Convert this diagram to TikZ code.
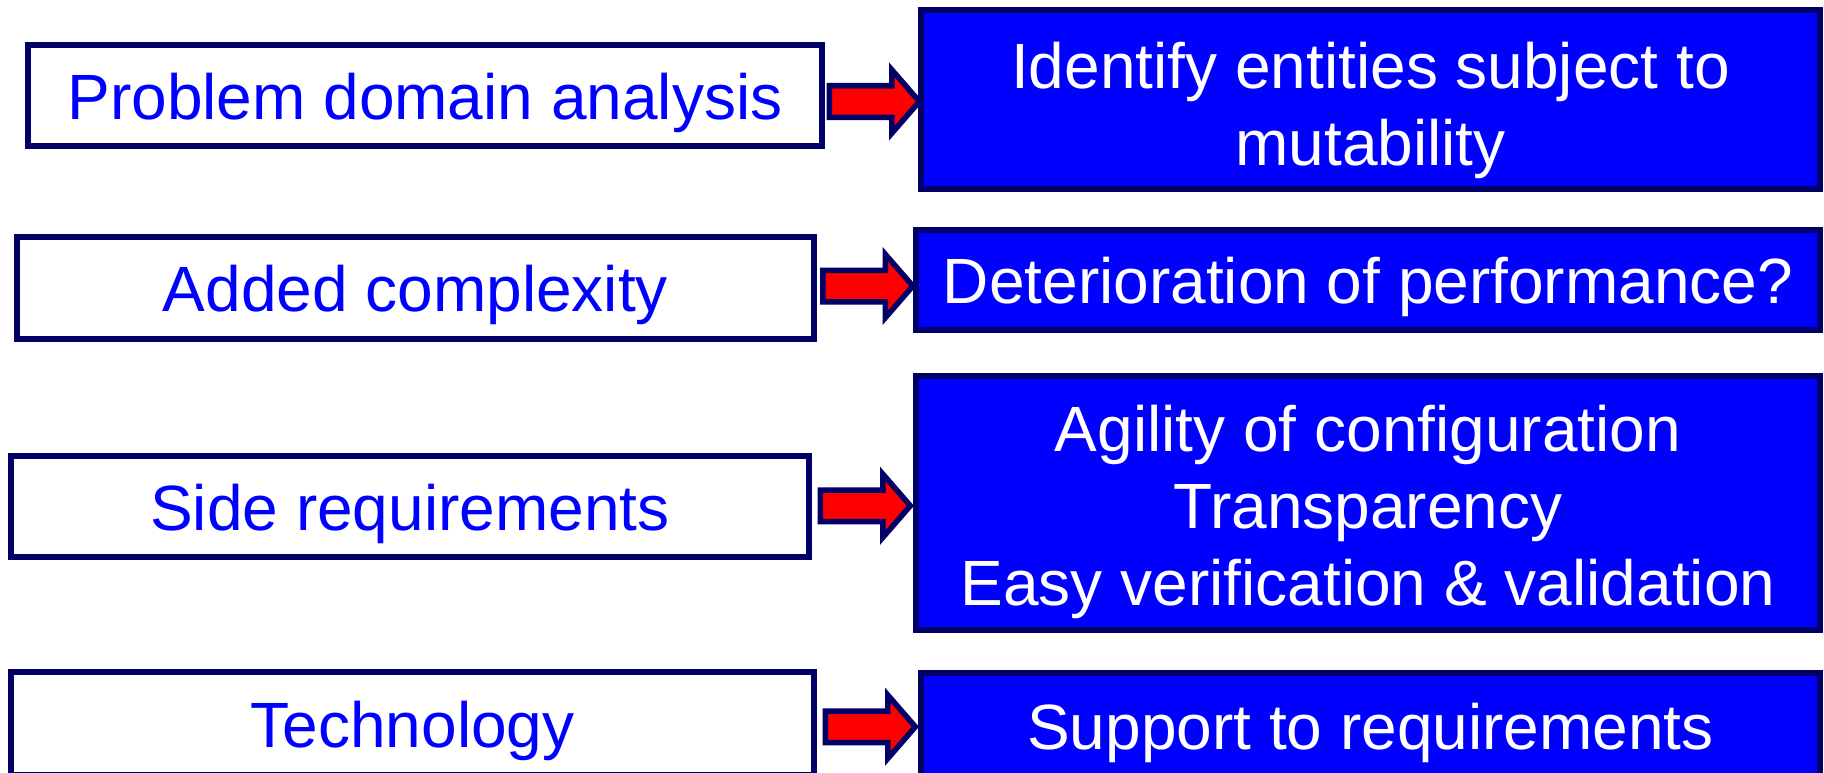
\documentclass[tikz,border=0pt]{standalone}
\usepackage{fontspec}
\setmainfont{Liberation Sans}
\usetikzlibrary{shapes.arrows,calc}
\definecolor{navy}{RGB}{0,0,102}
\newcommand{\bigtxt}{\fontsize{18.2pt}{21.9pt}\selectfont}

\begin{document}
\begin{tikzpicture}[x=0.01cm,y=-0.01cm,
   cause/.style={draw=navy,line width=0.06cm,fill=white,text=blue,inner sep=0pt,font=\bigtxt,
      text height=0.47cm,text depth=0pt},
   effect/.style={draw=navy,line width=0.06cm,fill=blue,text=white,inner sep=0pt,align=center,font=\bigtxt,
      text depth=0pt},
   fat/.style={single arrow,draw=navy,fill=red,line width=0.055cm,inner xsep=0pt,inner ysep=0.13cm,
      minimum height=0.90cm,single arrow head extend=0.16cm,single arrow tip angle=98}]
   \clip (0,0) rectangle (1824,772);
   % left column
   \node[cause,minimum width=7.94cm,minimum height=1.01cm] (l1) at (425,95.5) {Problem domain analysis};
   \node[cause,minimum width=7.97cm,minimum height=1.02cm] (l2) at (415.5,288) {Added complexity};
   \node[cause,minimum width=7.98cm,minimum height=1.01cm] (l3) at (410,506.5) {Side requirements};
   \node[cause,minimum width=8.03cm,minimum height=1.03cm] (l4) at (412.5,723.5) {Technology};
   % right column
   \node[effect,minimum width=8.99cm,minimum height=1.79cm,text height=1.31cm] (r1) at (1370.5,99.5) {Identify entities subject to\\mutability};
   \node[effect,minimum width=9.04cm,minimum height=1.00cm,text height=0.47cm] (r2) at (1368,280) {Deterioration of performance?};
   \node[effect,minimum width=9.04cm,minimum height=2.54cm,text height=2.04cm] (r3) at (1368,503) {Agility of configuration\\Transparency\\Easy verification \& validation};
   \node[effect,minimum width=8.99cm,minimum height=1.06cm,text height=0.47cm] (r4) at (1370.5,726) {Support to requirements};
   % arrows
   \node[fat] (a1) at ($(l1.east)!0.5!(r1.west)+(-4,4)$) {};
   \node[fat] (a2) at ($(l2.east)!0.5!(r2.west)+(-4,2)$) {};
   \node[fat] (a3) at ($(l3.east)!0.5!(r3.west)+(-4,1)$) {};
   \node[fat] (a4) at ($(l4.east)!0.5!(r4.west)+(-4,2)$) {};
\end{tikzpicture}
\end{document}
